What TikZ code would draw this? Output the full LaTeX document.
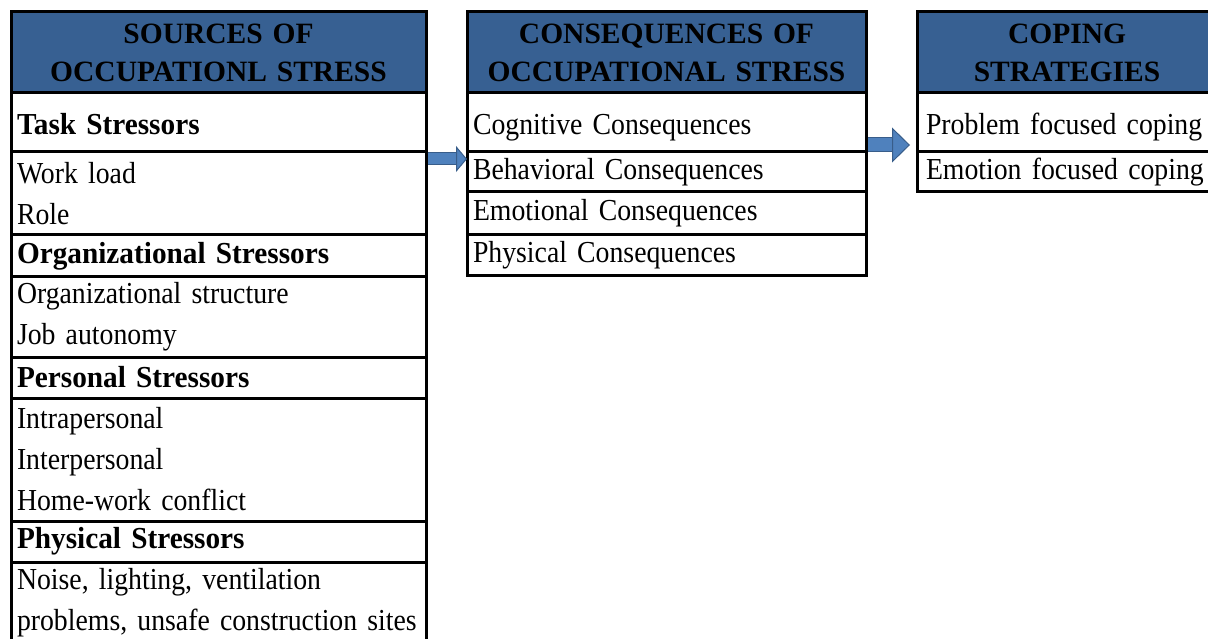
\documentclass[tikz,border=0pt]{standalone}
\usepackage{fontspec}
\setmainfont{Liberation Serif}[FakeStretch=0.91,BoldFeatures={FakeStretch=0.96}]
\newfontfamily\headfont{Liberation Serif}
\usetikzlibrary{positioning,arrows.meta}

\definecolor{headblue}{RGB}{55,96,146}
\definecolor{arrowfill}{RGB}{79,129,189}
\definecolor{arrowedge}{RGB}{56,93,138}

\newcommand\cellfont{\fontsize{30.5}{41}\selectfont\spaceskip=5.5pt plus 1pt\relax}
\newcommand\headerfont{\headfont\bfseries\fontsize{29.5}{38}\selectfont\spaceskip=6pt plus 1pt\relax}

\tikzset{
  box/.style={draw=black, line width=3pt, outer sep=0pt, inner xsep=6pt, inner ysep=0pt,
    align=left, font=\cellfont},
  headbox/.style={box, fill=headblue, align=center, minimum height=81pt, font=\headerfont},
  tallrow/.style={minimum height=59pt, text height=42pt, text depth=17pt},
  leftcol/.style={text width=403pt},
  midcol/.style={text width=387pt},
  rightcol/.style={text width=282pt, inner xsep=9pt},
  blockarrow/.style={draw=arrowedge, line width=1pt, double=arrowfill, double distance=#1},
}

\begin{document}
\begin{tikzpicture}[x=1pt,y=-1pt]
\useasboundingbox (0,0) rectangle (1208,639);

% sources
\node[headbox, leftcol, anchor=north west] (srchead) at (11,12) {SOURCES OF\\OCCUPATIONL STRESS};
\node[box, leftcol, tallrow, below=0pt of srchead] (task) {\textbf{Task Stressors}};
\node[box, leftcol, minimum height=83pt, below=0pt of task] (taskitems) {Work load\\Role};
\node[box, leftcol, minimum height=42pt, below=0pt of taskitems] (org) {\textbf{Organizational Stressors}};
\node[box, leftcol, minimum height=80pt, below=0pt of org] (orgitems) {Organizational structure\\Job autonomy};
\node[box, leftcol, minimum height=41pt, below=0pt of orgitems] (pers) {\textbf{Personal Stressors}};
\node[box, leftcol, minimum height=123pt, below=0pt of pers] (persitems) {Intrapersonal\\Interpersonal\\Home-work conflict};
\node[box, leftcol, minimum height=41pt, below=0pt of persitems] (phys) {\textbf{Physical Stressors}};
\node[box, leftcol, minimum height=82pt, below=0pt of phys] (physitems) {Noise, lighting, ventilation\\problems, unsafe construction sites};

% consequences
\node[headbox, midcol, anchor=north west] (conhead) at (467,12) {CONSEQUENCES OF\\OCCUPATIONAL STRESS};
\node[box, midcol, tallrow, below=0pt of conhead] (cog) {Cognitive Consequences};
\node[box, midcol, minimum height=40pt, below=0pt of cog] (beh) {Behavioral Consequences};
\node[box, midcol, minimum height=43pt, below=0pt of beh] (emo) {Emotional Consequences};
\node[box, midcol, minimum height=41pt, below=0pt of emo] (phy) {Physical Consequences};

% coping
\node[headbox, rightcol, anchor=north west] (cophead) at (917,12) {COPING\\STRATEGIES};
\node[box, rightcol, tallrow, below=0pt of cophead] (prob) {Problem focused coping};
\node[box, rightcol, minimum height=40pt, below=0pt of prob] (emot) {Emotion focused coping};

% arrows
\draw[blockarrow=11pt, shorten <=1.5pt, -{Triangle[length=11pt,width=26pt,fill=arrowfill,color=arrowedge,line width=1pt]}]
  ([yshift=-7pt]task.south east) -- ([yshift=-7pt]cog.south west);
\draw[blockarrow=13pt, shorten <=2pt, shorten >=7pt, -{Triangle[length=18pt,width=35pt,fill=arrowfill,color=arrowedge,line width=1pt]}]
  ([yshift=7pt]cog.south east) -- ([yshift=7pt]prob.south west);
\end{tikzpicture}
\end{document}
